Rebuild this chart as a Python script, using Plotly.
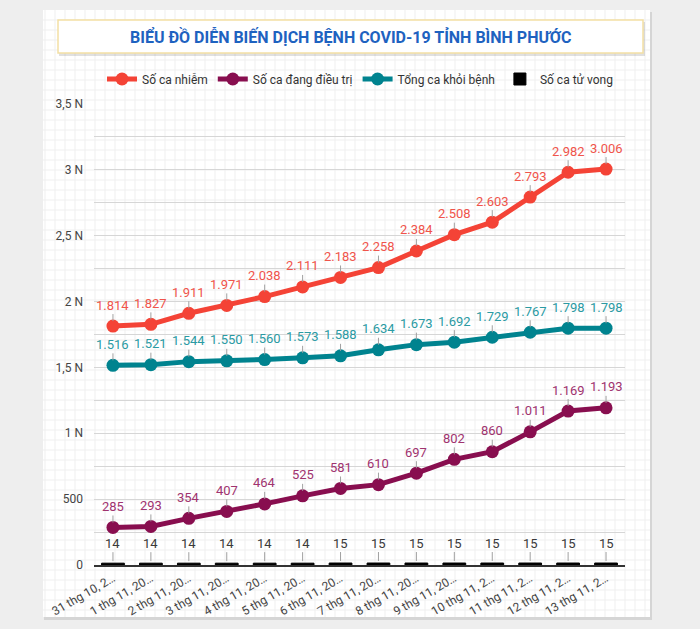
import plotly.graph_objects as go

dates = ["31 thg 10, 2…", "1 thg 11, 20…", "2 thg 11, 20…", "3 thg 11, 20…", "4 thg 11, 20…",
         "5 thg 11, 20…", "6 thg 11, 20…", "7 thg 11, 20…", "8 thg 11, 20…", "9 thg 11, 20…",
         "10 thg 11, 2…", "11 thg 11, 2…", "12 thg 11, 2…", "13 thg 11, 2…"]
infected = [1814, 1827, 1911, 1971, 2038, 2111, 2183, 2258, 2384, 2508, 2603, 2793, 2982, 3006]
treating = [285, 293, 354, 407, 464, 525, 581, 610, 697, 802, 860, 1011, 1169, 1193]
recovered = [1516, 1521, 1544, 1550, 1560, 1573, 1588, 1634, 1673, 1692, 1729, 1767, 1798, 1798]
deaths = [14, 14, 14, 14, 14, 14, 15, 15, 15, 15, 15, 15, 15, 15]
ytick_vals = [0, 250, 500, 750, 1000, 1250, 1500, 1750, 2000, 2250, 2500, 2750, 3000, 3250, 3500]
ytick_text = ["0", "", "500", "", "1 N", "", "1,5 N", "", "2 N", "", "2,5 N", "", "3 N", "", "3,5 N"]

title = "BIỂU ĐỒ DIỄN BIẾN DỊCH BỆNH COVID-19 TỈNH BÌNH PHƯỚC"
FONT = "Roboto"

W, H = 700, 629
L, R, T, B = 94, 75, 104, 64
PW, PH = W - L - R, H - T - B


def px(x):
    return (x - L) / PW


def py(y):
    return (H - B - y) / PH


def fmt(v):
    return f"{v:,}".replace(",", ".")


fig = go.Figure()

series = [
    ("Số ca nhiễm", infected, "#f44336", "#f0544b"),
    ("Số ca đang điều trị", treating, "#880e4f", "#a0336f"),
    ("Tổng ca khỏi bệnh", recovered, "#00838f", "#2a9aa3"),
]
for name, vals, col, lcol in series:
    fig.add_trace(go.Scatter(
        x=dates, y=vals, name=name, mode="lines+markers",
        line=dict(color=col, width=5), marker=dict(color=col, size=13),
    ))

fig.add_trace(go.Bar(x=dates, y=deaths, name="Số ca tử vong",
                     marker=dict(color="#000000", line=dict(color="#000000", width=1)), width=0.6))

annotations = []
for name, vals, col, lcol in series:
    for d, v in zip(dates, vals):
        annotations.append(dict(
            x=d, y=v, xref="x", yref="y", text=fmt(v), showarrow=True,
            arrowhead=0, arrowwidth=1, arrowcolor="#a0a0a0", ax=0, ay=-21, standoff=5,
            font=dict(family=FONT, size=13, color=lcol),
        ))
for d, v in zip(dates, deaths):
    annotations.append(dict(
        x=d, y=v, xref="x", yref="y", text=fmt(v), showarrow=True,
        arrowhead=0, arrowwidth=1, arrowcolor="#a0a0a0", ax=0, ay=-20, standoff=2,
        font=dict(family=FONT, size=13, color="#3a3a3a"),
    ))

annotations.append(dict(
    x=px(350.5), y=py(37), xref="paper", yref="paper", text="<b>" + title + "</b>",
    showarrow=False, xanchor="center", yanchor="middle",
    font=dict(family=FONT, size=16, color="#1e62c0"),
))

shapes = []
shapes.append(dict(type="rect", xref="paper", yref="paper", layer="below",
                   x0=px(44), x1=px(652), y0=py(12), y1=py(620),
                   fillcolor="rgba(0,0,0,0.10)", line=dict(width=0)))
shapes.append(dict(type="rect", xref="paper", yref="paper", layer="below",
                   x0=px(43), x1=px(650), y0=py(10), y1=py(617),
                   fillcolor="#ffffff", line=dict(width=0)))
path = []
x = 45
while x < 650:
    path.append(f"M{px(x)},{py(10)} L{px(x)},{py(617)}")
    x += 10
y = 20
while y < 617:
    path.append(f"M{px(43)},{py(y)} L{px(650)},{py(y)}")
    y += 10
shapes.append(dict(type="path", xref="paper", yref="paper", layer="below",
                   path=" ".join(path), line=dict(color="#efefef", width=1)))
shapes.append(dict(type="rect", xref="paper", yref="paper", layer="below",
                   x0=px(59), x1=px(645), y0=py(22), y1=py(56),
                   fillcolor="rgba(0,0,0,0.12)", line=dict(width=0)))
shapes.append(dict(type="rect", xref="paper", yref="paper", layer="below",
                   x0=px(58), x1=px(643), y0=py(20), y1=py(53),
                   fillcolor="#ffffff", line=dict(color="#f3e0a4", width=1.5)))

fig.update_layout(
    width=W, height=H,
    margin=dict(l=L, r=R, t=T, b=B, autoexpand=False),
    paper_bgcolor="#eeeeee", plot_bgcolor="rgba(0,0,0,0)",
    font=dict(family=FONT, size=12, color="#444444"),
    showlegend=True,
    legend=dict(orientation="h", xref="container", yref="container",
                x=360 / W, xanchor="center", y=1 - 79 / H, yanchor="middle",
                font=dict(family=FONT, size=12, color="#333333"), bgcolor="rgba(0,0,0,0)",
                itemwidth=30, traceorder="normal"),
    annotations=annotations, shapes=shapes,
    xaxis=dict(type="category", tickangle=-30, showgrid=False, showline=True,
               linecolor="#333333", linewidth=2, ticks="", range=[-0.5, 13.5],
               tickfont=dict(family=FONT, size=12, color="#444444")),
    yaxis=dict(range=[0, 3500], tickvals=ytick_vals, ticktext=ytick_text, showgrid=True,
               gridcolor="#d6d6d6", gridwidth=1, zeroline=False, showline=False,
               ticks="", ticklabelstandoff=10,
               tickfont=dict(family=FONT, size=12, color="#444444")),
    bargap=0.4,
)

fig.write_html("out.html", config={"displayModeBar": False},
               post_script="document.body.style.margin='0';document.body.style.overflow='hidden';")
